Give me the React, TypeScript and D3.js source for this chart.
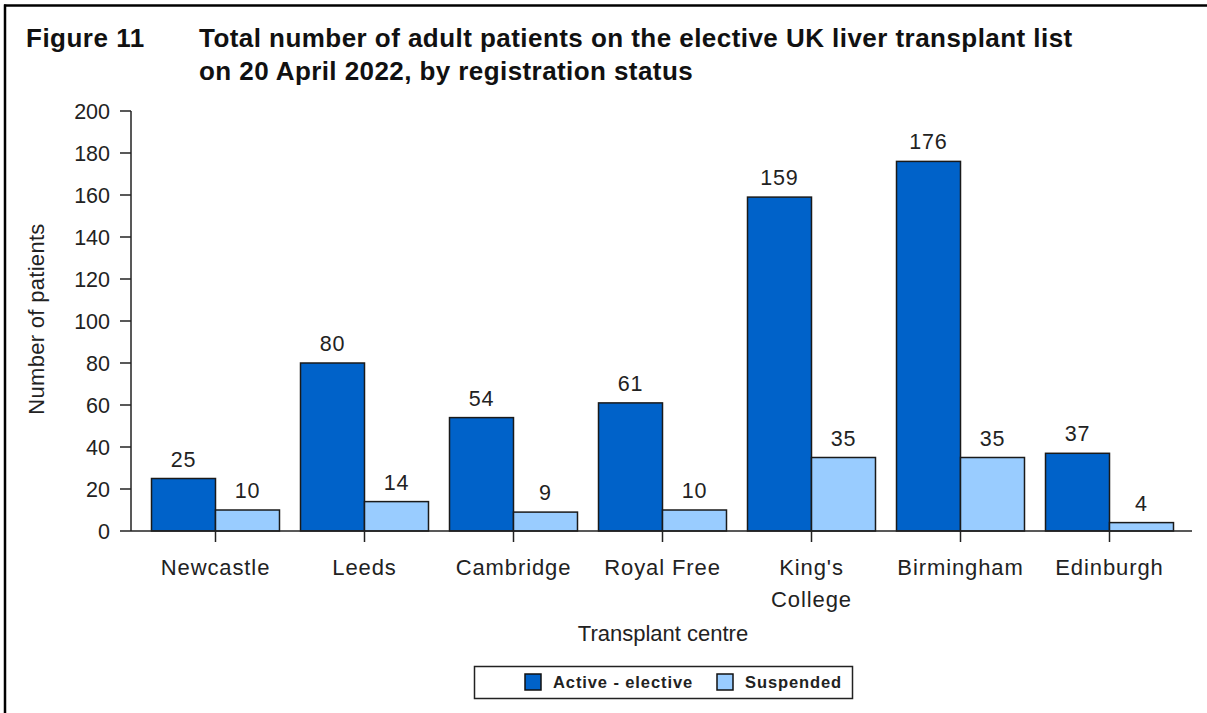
import React from "react";
import * as d3 from "d3";

const centres = ["Newcastle", "Leeds", "Cambridge", "Royal Free", "King's College", "Birmingham", "Edinburgh"];
const centreLines = [["Newcastle"], ["Leeds"], ["Cambridge"], ["Royal Free"], ["King's", "College"], ["Birmingham"], ["Edinburgh"]];
const activeElective = [25, 80, 54, 61, 159, 176, 37];
const suspended = [10, 14, 9, 10, 35, 35, 4];
const seriesNames = ["Active - elective", "Suspended"];
const seriesColors = ["#0062C9", "#99CCFF"];
const yTicks = [0, 20, 40, 60, 80, 100, 120, 140, 160, 180, 200];

const W = 1207;
const H = 713;
const FONT = "'Liberation Sans', Arial, sans-serif";
const TXT = "#222";

export default function App() {
  const x = d3.scaleBand<string>().domain(centres).range([141, 1184]).paddingInner(0.141).paddingOuter(0.0705);
  const inner = d3.scaleBand<string>().domain(seriesNames).range([0, x.bandwidth()]);
  const y = d3.scaleLinear().domain([0, 200]).range([531, 111]);
  const series = [activeElective, suspended];
  const axisX0 = 131;
  const axisX1 = 1192;

  return (
    <svg width={W} height={H} style={{ position: "absolute", left: 0, top: 0, background: "#fff" }} fontFamily={FONT}>
      <rect x={0} y={0} width={W} height={H} fill="#fff" />
      {/* frame */}
      <line x1={4} x2={W} y1={5.5} y2={5.5} stroke="#000" strokeWidth={2.5} />
      <line x1={5} x2={5} y1={4.5} y2={H} stroke="#000" strokeWidth={2.5} />

      {/* title */}
      <text x={26} y={47} fontSize={26} fontWeight="bold" fill="#111" letterSpacing={0.5}>Figure 11</text>
      <text x={199} y={47} fontSize={26} fontWeight="bold" fill="#111" letterSpacing={0.45}>
        Total number of adult patients on the elective UK liver transplant list
      </text>
      <text x={199} y={80} fontSize={26} fontWeight="bold" fill="#111" letterSpacing={0.42}>
        on 20 April 2022, by registration status
      </text>

      {/* y axis */}
      <line x1={axisX0} x2={axisX0} y1={y(200)} y2={y(0)} stroke={TXT} strokeWidth={1.5} />
      {yTicks.map((t) => (
        <g key={t}>
          <line x1={axisX0 - 11} x2={axisX0} y1={y(t)} y2={y(t)} stroke={TXT} strokeWidth={1.5} />
          <text x={axisX0 - 21} y={y(t)} dy="0.36em" textAnchor="end" fontSize={21.5} fill={TXT}>
            {t}
          </text>
        </g>
      ))}
      <text
        transform={`translate(44,${319}) rotate(-90)`}
        textAnchor="middle"
        fontSize={22}
        fill={TXT}
        letterSpacing={0.3}
      >
        Number of patients
      </text>

      {/* bars */}
      {centres.map((c, i) => (
        <g key={c} transform={`translate(${x(c)},0)`}>
          {series.map((vals, s) => {
            const v = vals[i];
            const bx = inner(seriesNames[s])!;
            const bw = inner.bandwidth();
            return (
              <g key={s}>
                <rect
                  x={bx}
                  y={y(v)}
                  width={bw}
                  height={y(0) - y(v)}
                  fill={seriesColors[s]}
                  stroke="#1a1a1a"
                  strokeWidth={1.5}
                />
                <text x={bx + bw / 2} y={y(v) - 12} textAnchor="middle" fontSize={21.5} fill={TXT} letterSpacing={0.8}>
                  {v}
                </text>
              </g>
            );
          })}
        </g>
      ))}

      {/* x axis */}
      <line x1={axisX0} x2={axisX1} y1={y(0)} y2={y(0)} stroke={TXT} strokeWidth={1.5} />
      {centres.map((c, i) => {
        const cx = x(c)! + x.bandwidth() / 2;
        return (
          <g key={c}>
            <line x1={cx} x2={cx} y1={y(0)} y2={y(0) + 11} stroke={TXT} strokeWidth={1.5} />
            {centreLines[i].map((ln, k) => (
              <text key={k} x={cx} y={575 + k * 32} textAnchor="middle" fontSize={22} fill={TXT} letterSpacing={0.9}>
                {ln}
              </text>
            ))}
          </g>
        );
      })}
      <text x={663} y={641} textAnchor="middle" fontSize={22} fill={TXT}>
        Transplant centre
      </text>

      {/* legend */}
      <rect x={474.5} y={666.5} width={378} height={32} fill="#fff" stroke="#222" strokeWidth={1.5} />
      {seriesNames.map((n, s) => {
        const lx = s === 0 ? 525 : 717;
        return (
          <g key={n}>
            <rect x={lx} y={674} width={16} height={16} fill={seriesColors[s]} stroke="#111" strokeWidth={1.5} />
            <text x={lx + 28} y={688} fontSize={16.5} fontWeight="bold" fill="#222" letterSpacing={0.9}>
              {n}
            </text>
          </g>
        );
      })}
    </svg>
  );
}
